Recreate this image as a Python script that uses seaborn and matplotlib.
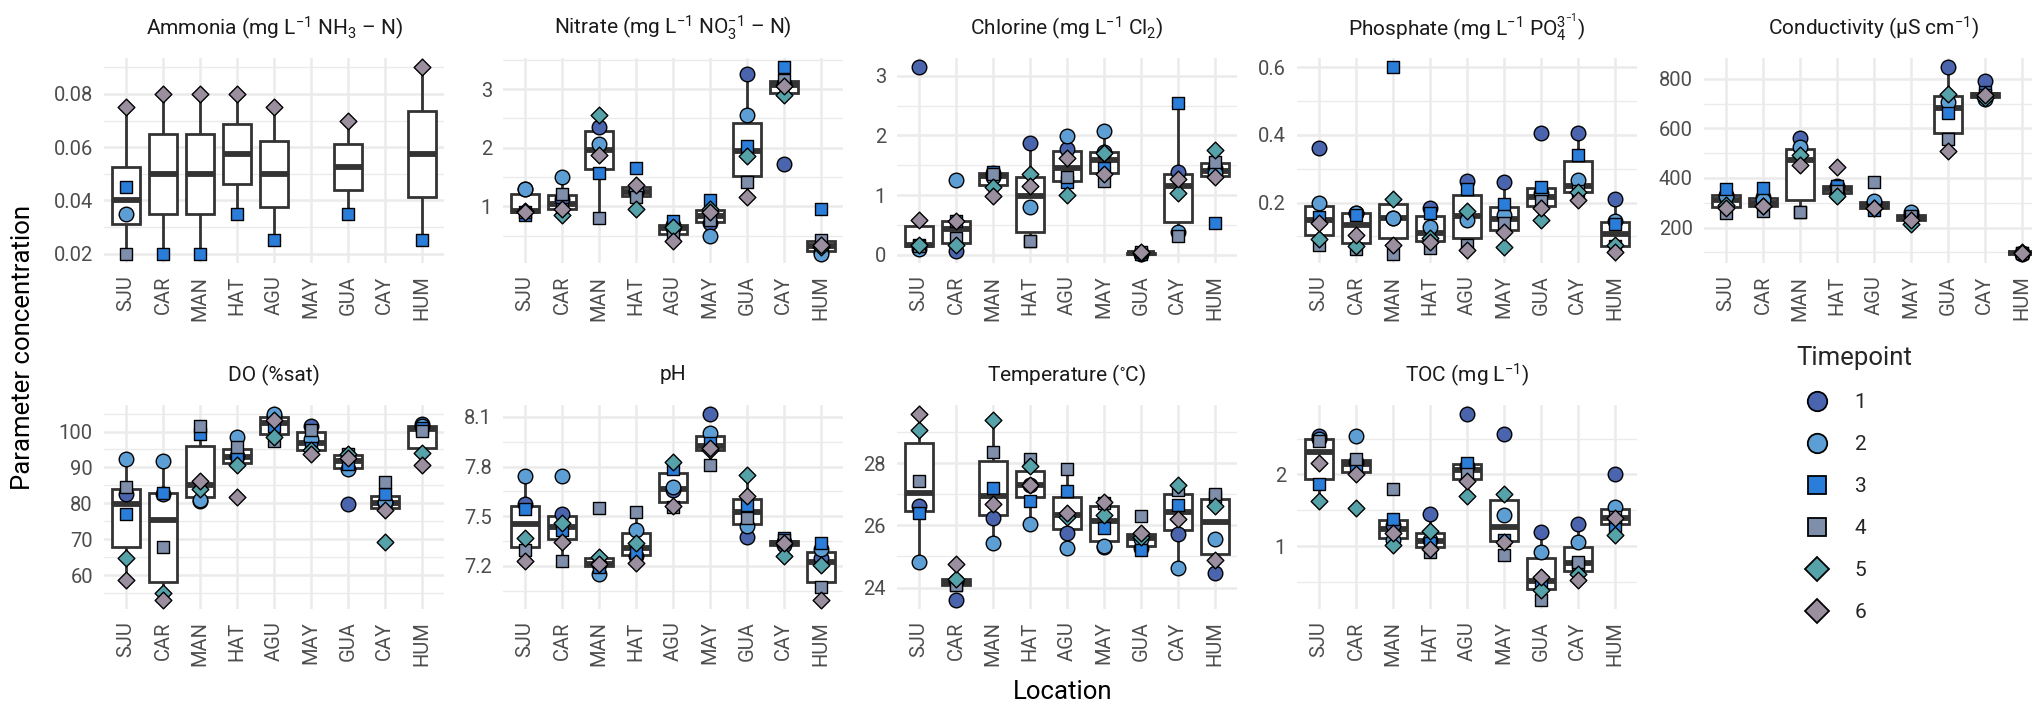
import numpy as np
import pandas as pd
import matplotlib
matplotlib.use("Agg")
import matplotlib.pyplot as plt
import seaborn as sns
from matplotlib.lines import Line2D
from matplotlib.ticker import MultipleLocator, FixedLocator

nan = np.nan

locations = ["SJU", "CAR", "MAN", "HAT", "AGU", "MAY", "GUA", "CAY", "HUM"]
timepoints = ["1", "2", "3", "4", "5", "6"]
tp_colors = ["#4a65ae", "#5d9fd5", "#2a7dd8", "#7f8fab", "#56a2a9", "#9a8e9f"]
tp_markers = ["o", "o", "s", "s", "D", "D"]

# values per location (rows) for timepoints 1..6 (columns)
ammonia = [
    [nan, 0.035, 0.045, 0.020, nan, 0.075],
    [nan, nan, 0.020, nan, nan, 0.080],
    [nan, nan, 0.020, nan, nan, 0.080],
    [nan, nan, 0.035, nan, nan, 0.080],
    [nan, nan, 0.025, nan, nan, 0.075],
    [nan, nan, nan, nan, nan, nan],
    [nan, nan, 0.035, nan, nan, 0.070],
    [nan, nan, nan, nan, nan, nan],
    [nan, nan, 0.025, nan, nan, 0.090],
]
nitrate = [
    [1.30, 1.30, 0.85, 0.90, 0.92, 0.90],
    [1.12, 1.50, 0.95, 1.21, 0.85, 0.95],
    [2.35, 2.06, 1.56, 0.80, 2.55, 1.87],
    [1.24, 1.26, 1.65, 1.15, 0.95, 1.36],
    [0.62, 0.68, 0.75, 0.50, 0.65, 0.40],
    [0.71, 0.50, 1.10, 0.77, 0.95, 0.90],
    [3.25, 2.55, 2.02, 1.41, 1.86, 1.15],
    [1.72, 3.08, 3.37, 3.16, 2.90, 3.05],
    [0.22, 0.19, 0.95, 0.42, 0.30, 0.34],
]
chlorine = [
    [3.14, 0.10, 0.17, 0.15, 0.17, 0.59],
    [0.07, 1.25, 0.57, 0.28, 0.17, 0.57],
    [1.37, 1.30, 1.38, 1.35, 1.13, 0.98],
    [1.87, 0.80, 0.24, 0.24, 1.36, 1.16],
    [1.77, 1.99, 1.22, 1.30, 1.01, 1.62],
    [1.72, 2.07, 1.46, 1.24, 1.71, 1.35],
    [0.02, 0.03, 0.02, 0.05, 0.03, 0.04],
    [1.38, 0.39, 2.55, 0.31, 1.04, 1.27],
    [1.45, 1.37, 0.54, 1.56, 1.76, 1.30],
]
phosphate = [
    [0.360, 0.200, 0.156, 0.076, 0.093, 0.139],
    [0.170, 0.170, 0.163, 0.064, 0.072, 0.105],
    [0.154, 0.154, 0.600, 0.049, 0.210, 0.074],
    [0.185, 0.128, 0.170, 0.067, 0.095, 0.085],
    [0.264, 0.148, 0.240, 0.076, 0.175, 0.060],
    [0.261, 0.163, 0.195, 0.140, 0.070, 0.113],
    [0.405, 0.227, 0.247, 0.205, 0.149, 0.185],
    [0.405, 0.266, 0.341, 0.234, 0.232, 0.207],
    [0.210, 0.146, 0.138, 0.072, 0.074, 0.054],
]
conductivity = [
    [333, 326, 357, 259, 293, 279],
    [324, 313, 360, 268, 286, 286],
    [561, 524, 262, 262, 494, 454],
    [369, 336, 366, 349, 326, 443],
    [299, 306, 273, 383, 280, 279],
    [252, 262, 232, 246, 216, 232],
    [846, 706, 662, 557, 740, 507],
    [789, 719, 745, 735, 722, 733],
    [95, 97, 96, 98, 103, 99],
]
dissolved_oxygen = [
    [82.7, 92.3, 77.1, 84.5, 64.9, 58.7],
    [82.7, 91.9, 82.9, 67.9, 55.0, 53.2],
    [80.8, 81.0, 99.3, 101.6, 83.9, 86.2],
    [93.3, 98.5, 92.8, 95.6, 90.8, 81.7],
    [104.3, 104.8, 101.5, 97.4, 98.6, 103.2],
    [101.6, 97.9, 95.5, 100.4, 94.8, 93.7],
    [79.9, 89.6, 91.0, 93.7, 93.7, 92.6],
    [80.1, 80.4, 82.5, 85.9, 69.3, 78.1],
    [102.0, 101.6, 101.0, 100.2, 94.0, 90.7],
]
ph = [
    [7.572, 7.746, 7.542, 7.296, 7.366, 7.232],
    [7.516, 7.746, 7.416, 7.232, 7.460, 7.346],
    [7.210, 7.150, 7.196, 7.552, 7.256, 7.212],
    [7.262, 7.420, 7.276, 7.526, 7.340, 7.220],
    [7.656, 7.676, 7.786, 7.556, 7.826, 7.562],
    [8.116, 8.000, 7.940, 7.810, 7.900, 7.910],
    [7.376, 7.440, 7.566, 7.490, 7.750, 7.620],
    [7.326, 7.346, 7.366, 7.356, 7.260, 7.336],
    [7.246, 7.300, 7.336, 7.070, 7.206, 6.996],
]
temperature = [
    [26.63, 24.83, 26.39, 27.42, 29.06, 29.57],
    [23.61, 24.20, 24.07, 24.07, 24.29, 24.77],
    [26.23, 25.43, 27.21, 28.35, 29.39, 26.68],
    [27.30, 26.04, 26.79, 28.12, 27.90, 27.29],
    [25.75, 25.27, 27.10, 27.82, 26.28, 26.39],
    [25.30, 25.35, 25.93, 26.71, 26.33, 26.76],
    [25.27, 25.57, 25.20, 26.30, 25.62, 25.75],
    [25.73, 24.64, 26.65, 27.13, 27.29, 26.21],
    [24.48, 25.57, 26.90, 27.00, 26.63, 24.90],
]
toc = [
    [2.54, 2.50, 1.87, 2.47, 1.63, 2.16],
    [2.17, 2.54, 2.12, 2.22, 1.53, 2.00],
    [1.30, 1.09, 1.38, 1.80, 1.01, 1.18],
    [1.45, 1.09, 1.04, 0.91, 1.21, 0.96],
    [2.84, 2.12, 2.16, 2.00, 1.70, 1.91],
    [2.56, 1.43, 1.09, 0.88, 1.72, 1.06],
    [1.20, 0.92, 0.45, 0.25, 0.39, 0.57],
    [1.31, 1.05, 0.75, 0.77, 0.61, 0.53],
    [2.01, 1.55, 1.28, 1.40, 1.16, 1.39],
]

titles = [
    "Ammonia (mg L$^{-1}$ NH$_3$ – N)",
    "Nitrate (mg L$^{-1}$ NO$_3^{-1}$ – N)",
    "Chlorine (mg L$^{-1}$ Cl$_2$)",
    "Phosphate (mg L$^{-1}$ PO$_4^{3^{-1}}$)",
    "Conductivity (μS cm$^{-1}$)",
    "DO (%sat)",
    "pH",
    "Temperature ($^{\\circ}$C)",
    "TOC (mg L$^{-1}$)",
]
ytick_values = [
    [0.02, 0.04, 0.06, 0.08],
    [1, 2, 3],
    [0, 1, 2, 3],
    [0.2, 0.4, 0.6],
    [200, 400, 600, 800],
    [60, 70, 80, 90, 100],
    [7.2, 7.5, 7.8, 8.1],
    [24, 26, 28],
    [1, 2],
]
ytick_labels = [
    ["0.02", "0.04", "0.06", "0.08"],
    ["1", "2", "3"],
    ["0", "1", "2", "3"],
    ["0.2", "0.4", "0.6"],
    ["200", "400", "600", "800"],
    ["60", "70", "80", "90", "100"],
    ["7.2", "7.5", "7.8", "8.1"],
    ["24", "26", "28"],
    ["1", "2"],
]
datasets = [ammonia, nitrate, chlorine, phosphate, conductivity,
            dissolved_oxygen, ph, temperature, toc]

sns.set_style("white")
plt.rcParams["font.family"] = ["Roboto", "DejaVu Sans"]
plt.rcParams["mathtext.fontset"] = "custom"
plt.rcParams["mathtext.rm"] = "Roboto"
plt.rcParams["mathtext.it"] = "Roboto"
plt.rcParams["mathtext.default"] = "regular"

W, H = 2033, 706
fig = plt.figure(figsize=(W / 100, H / 100), dpi=100)
fig.patch.set_facecolor("white")

lefts = [104, 503, 897, 1297, 1704]
rows = [(58, 263), (405, 609)]
pw = 340

np.random.seed(7)

for i, (title, data) in enumerate(zip(titles, datasets)):
    col, row = i % 5, i // 5
    t, b = rows[row]
    ax = fig.add_axes([lefts[col] / W, 1 - b / H, pw / W, (b - t) / H])
    recs = []
    for li, loc in enumerate(locations):
        for ti, tp in enumerate(timepoints):
            v = data[li][ti]
            if not np.isnan(v):
                recs.append({"Location": loc, "Timepoint": tp, "value": v})
    df = pd.DataFrame(recs)

    sns.boxplot(data=df, x="Location", y="value", order=locations, ax=ax,
                color="white", linecolor="#333333", linewidth=2.0, width=0.75,
                showfliers=False, showcaps=False,
                medianprops={"linewidth": 4.2, "color": "#333333"})
    for ti, tp in enumerate(timepoints):
        sub = df[df["Timepoint"] == tp]
        if len(sub) == 0:
            continue
        m = tp_markers[ti]
        size = {"o": 10.5, "s": 9.0, "D": 8.5}[m]
        sns.stripplot(data=sub, x="Location", y="value", order=locations, ax=ax,
                      color=tp_colors[ti], marker=m, size=size, jitter=0.22,
                      edgecolor="black", linewidth=1.0, zorder=3)

    vals = df["value"].to_numpy()
    lo, hi = vals.min(), vals.max()
    pad = 0.05 * (hi - lo)
    ax.set_ylim(lo - pad, hi + pad)
    ax.set_xlim(-0.6, len(locations) - 0.4)
    ax.yaxis.set_major_locator(FixedLocator(ytick_values[i]))
    ax.set_yticklabels(ytick_labels[i])
    step = (ytick_values[i][1] - ytick_values[i][0]) / 2
    ax.yaxis.set_minor_locator(MultipleLocator(step))
    ax.set_axisbelow(True)
    ax.grid(True, which="major", axis="both", color="#ebebeb", linewidth=1.8)
    ax.grid(True, which="minor", axis="y", color="#ebebeb", linewidth=1.0)
    for s in ax.spines.values():
        s.set_visible(False)
    ax.tick_params(axis="both", which="both", length=0)
    ax.tick_params(axis="y", labelsize=14.5, labelcolor="#4d4d4d", pad=8)
    ax.tick_params(axis="x", labelsize=14.5, labelcolor="#4d4d4d", pad=9,
                   labelrotation=90)
    ax.set_xlabel("")
    ax.set_ylabel("")
    ax.text(0.5, 1 + 30 / (b - t), title, transform=ax.transAxes,
            ha="center", va="center", fontsize=15, color="#1a1a1a")

fig.text(23 / W, 1 - 347 / H, "Parameter concentration", rotation=90,
         ha="center", va="center", fontsize=18.5, color="black")
fig.text(1063 / W, 1 - 692 / H, "Location", ha="center", va="center",
         fontsize=18.5, color="black")

handles = []
for ti, tp in enumerate(timepoints):
    m = tp_markers[ti]
    ms = {"o": 14, "s": 12.5, "D": 12}[m]
    handles.append(Line2D([], [], linestyle="None", marker=m, markersize=ms,
                          markerfacecolor=tp_colors[ti], markeredgecolor="black",
                          markeredgewidth=1.3))
leg = fig.legend(handles, timepoints, title="Timepoint", loc="upper left",
                 bbox_to_anchor=(1786 / W, 1 - 336 / H), frameon=False,
                 fontsize=15, title_fontsize=18.5, labelspacing=1.1,
                 handlelength=2.0, handletextpad=0.8, borderpad=0,
                 alignment="left")

fig.savefig("out.png", dpi=100, facecolor="white")
